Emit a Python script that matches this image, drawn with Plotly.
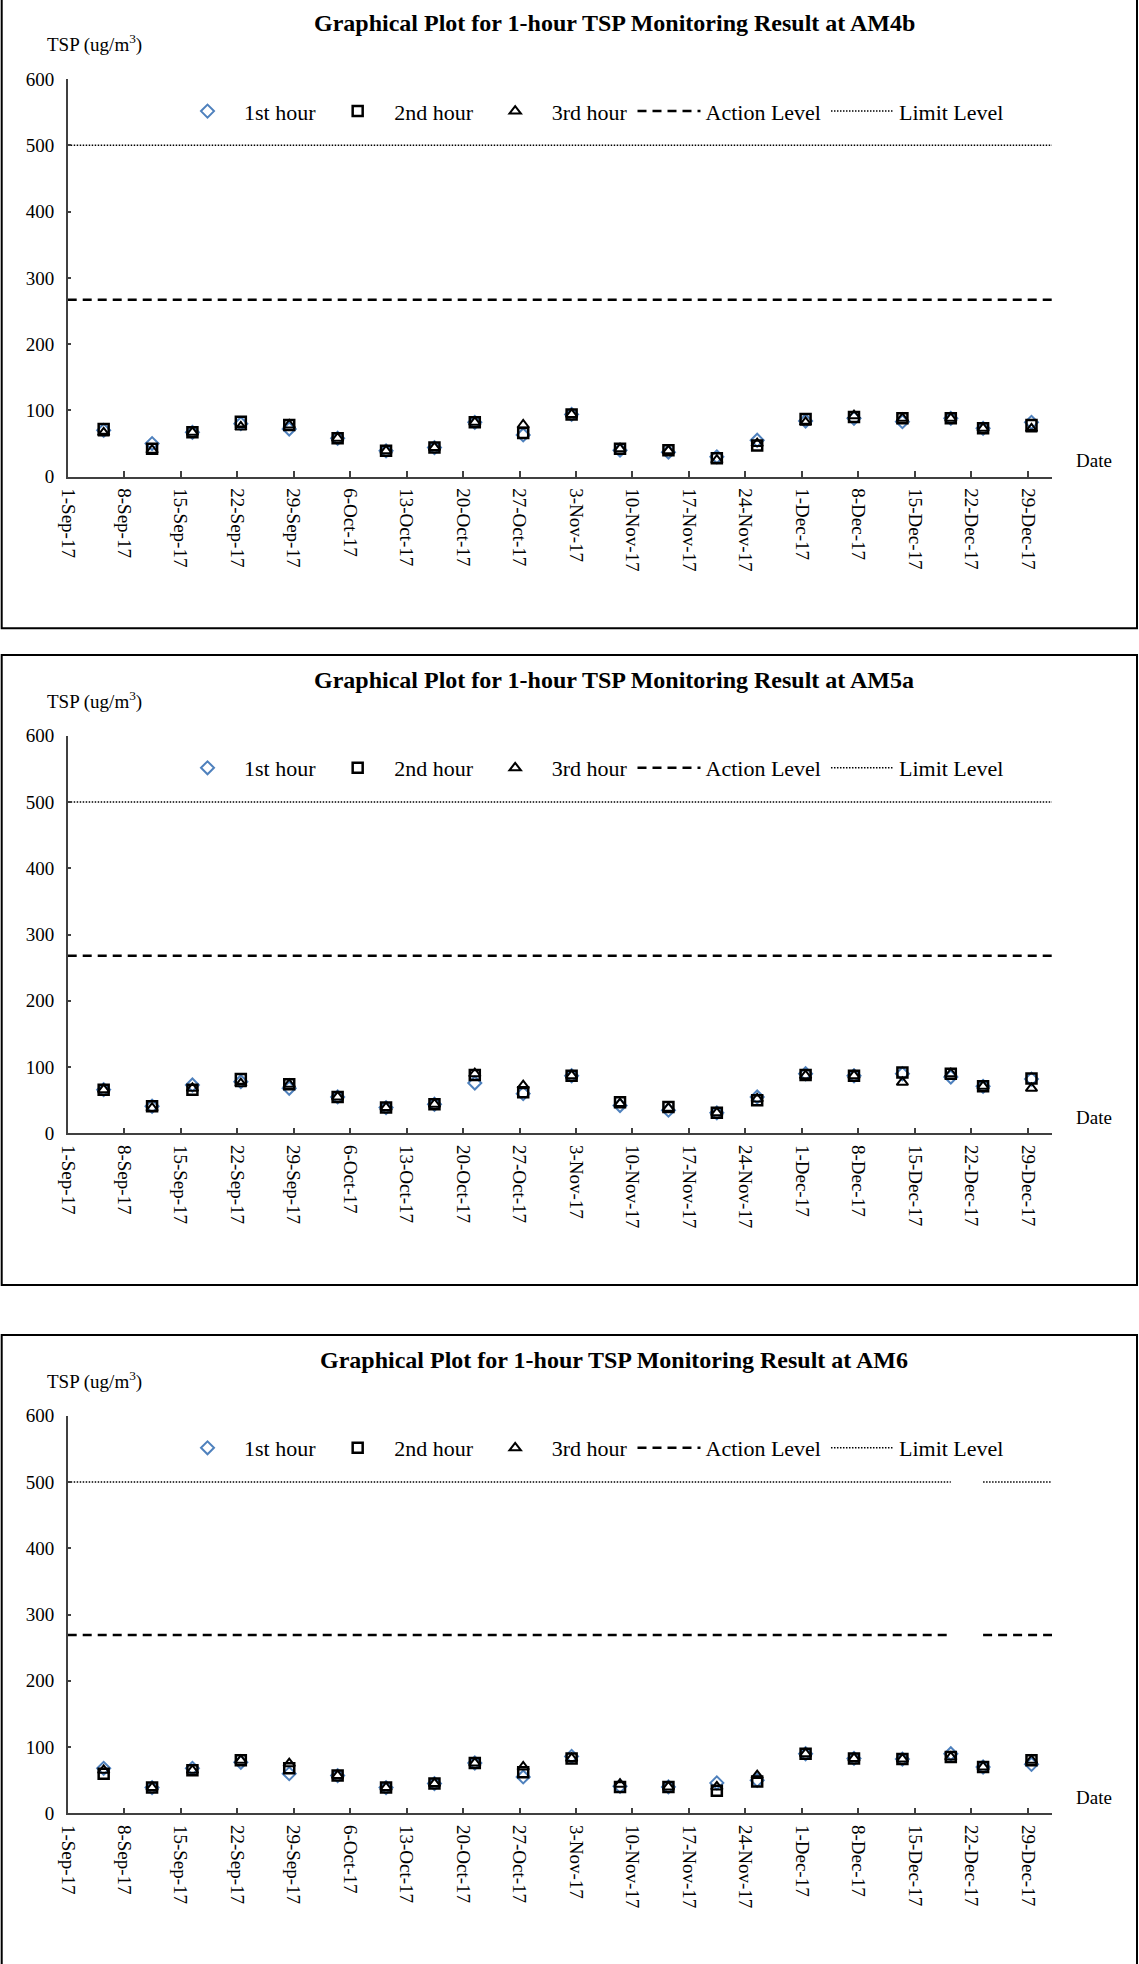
import plotly.graph_objects as go

# ---------------- data ----------------
sample_dates = ["2017-09-05", "2017-09-11", "2017-09-16", "2017-09-22", "2017-09-28",
                "2017-10-04", "2017-10-10", "2017-10-16", "2017-10-21", "2017-10-27",
                "2017-11-02", "2017-11-08", "2017-11-14", "2017-11-20", "2017-11-25",
                "2017-12-01", "2017-12-07", "2017-12-13", "2017-12-19", "2017-12-23",
                "2017-12-29"]
sample_time = "11:00"

stations = ["AM4b", "AM5a", "AM6"]

am4b_1st = [70, 50, 67, 80, 72, 58, 39, 44, 82, 63, 94, 40, 37, 30, 55, 84, 88, 83, 88, 73, 82]
am4b_2nd = [72, 42, 67, 83, 78, 58, 39, 44, 82, 66, 94, 42, 40, 28, 47, 87, 90, 88, 88, 73, 78]
am4b_3rd = [66, 40, 67, 75, 78, 58, 39, 44, 82, 78, 94, 42, 39, 25, 50, 82, 92, 88, 88, 73, 72]

am5a_1st = [66, 41, 73, 78, 68, 55, 39, 44, 76, 60, 87, 42, 35, 31, 55, 90, 87, 90, 85, 71, 82]
am5a_2nd = [66, 41, 66, 82, 74, 55, 39, 44, 88, 62, 87, 47, 40, 31, 50, 88, 87, 92, 90, 71, 83]
am5a_3rd = [66, 38, 68, 75, 74, 55, 39, 44, 90, 72, 87, 45, 38, 31, 52, 87, 87, 77, 90, 71, 68]

am6_1st = [68, 39, 68, 77, 60, 57, 39, 45, 76, 55, 86, 41, 40, 46, 50, 90, 83, 82, 90, 70, 74]
am6_2nd = [60, 39, 65, 80, 68, 57, 39, 45, 76, 62, 83, 40, 40, 34, 48, 90, 83, 82, 85, 70, 80]
am6_3rd = [65, 39, 65, 80, 75, 57, 39, 45, 76, 70, 83, 44, 40, 40, 57, 90, 83, 82, 85, 70, 80]

# level lines (dates, values); None = gap
level_dates_full = ["2017-09-01", "2018-01-01"]
am4b_action = [267, 267]
am4b_limit = [500, 500]
am5a_action = [268, 268]
am5a_limit = [500, 500]
level_dates_am6 = ["2017-09-01", "2017-12-19 11:00", "2017-12-21", "2017-12-23 11:00", "2018-01-01"]
am6_action = [269, 269, None, 269, 269]
am6_limit = [500, 500, None, 500, 500]

y_ticks = [0, 100, 200, 300, 400, 500, 600]

panels = [
    dict(name="AM4b", h1=am4b_1st, h2=am4b_2nd, h3=am4b_3rd,
         ldates=level_dates_full, action=am4b_action, limit=am4b_limit),
    dict(name="AM5a", h1=am5a_1st, h2=am5a_2nd, h3=am5a_3rd,
         ldates=level_dates_full, action=am5a_action, limit=am5a_limit),
    dict(name="AM6", h1=am6_1st, h2=am6_2nd, h3=am6_3rd,
         ldates=level_dates_am6, action=am6_action, limit=am6_limit),
]

# ---------------- layout geometry (pixels) ----------------
W, H = 1139, 1964
FONT = "Liberation Serif, Times New Roman, serif"
panel_tops = [-1.7, 655.0, 1335.0]
panel_bottoms = [628.3, 1285.0, 1965.0]
BOX_L, BOX_R = 1.7, 1137.0
X0_PX, X1_PX = 67.7, 1052.0
Y600_OFF, Y0_OFF = 80.7, 478.4
BLUE = "#4F81BD"


def px_x(p):
    return p / W


def px_y(p):
    return 1 - p / H


xs = [d + " " + sample_time for d in sample_dates]

fig = go.Figure()
layout = dict(
    width=W, height=H, margin=dict(l=0, r=0, t=0, b=0, autoexpand=False),
    paper_bgcolor="white", plot_bgcolor="white",
    font=dict(family=FONT, color="black", size=19),
    shapes=[], annotations=[],
)

for i, p in enumerate(panels):
    k = i + 1
    sfx = "" if k == 1 else str(k)
    xa = "x" + sfx
    ya = "y" + sfx
    leg = "legend" + sfx
    T = panel_tops[i]

    fig.add_trace(go.Scatter(
        x=xs, y=p["h1"], mode="markers", name="1st hour", xaxis=xa, yaxis=ya, legend=leg,
        marker=dict(symbol="diamond-open", size=10, color=BLUE, line=dict(width=2, color=BLUE))))
    fig.add_trace(go.Scatter(
        x=xs, y=p["h2"], mode="markers", name="2nd hour", xaxis=xa, yaxis=ya, legend=leg,
        marker=dict(symbol="square-open", size=10, color="black", line=dict(width=2.5, color="black"))))
    fig.add_trace(go.Scatter(
        x=xs, y=p["h3"], mode="markers", name="3rd hour", xaxis=xa, yaxis=ya, legend=leg,
        marker=dict(symbol="triangle-up-open", size=10, color="black", line=dict(width=2, color="black"))))
    fig.add_trace(go.Scatter(
        x=p["ldates"], y=p["action"], mode="lines", name="Action Level", xaxis=xa, yaxis=ya,
        legend=leg, connectgaps=False,
        line=dict(color="black", width=2.5, dash="9px,6px")))
    fig.add_trace(go.Scatter(
        x=p["ldates"], y=p["limit"], mode="lines", name="Limit Level", xaxis=xa, yaxis=ya,
        legend=leg, connectgaps=False,
        line=dict(color="black", width=1.5, dash="1.5px,1.5px")))

    y_top = T + Y600_OFF
    y_bot = T + Y0_OFF
    layout["xaxis" + sfx] = dict(
        domain=[px_x(X0_PX), px_x(X1_PX)], anchor=ya, type="date", automargin=False,
        range=["2017-09-01", "2018-01-01"],
        tick0="2017-09-01", dtick=7 * 86400000, tickformat="%-d-%b-%y",
        tickangle=90, ticks="inside", ticklen=6, tickwidth=1.5, tickcolor="#404040",
        showline=True, linecolor="#404040", linewidth=1.5, showgrid=False, zeroline=False,
        tickfont=dict(size=19, family=FONT, color="black"), ticklabelstandoff=6,
    )
    layout["yaxis" + sfx] = dict(
        domain=[px_y(y_bot), px_y(y_top)], anchor=xa, range=[0, 600], automargin=False,
        tickvals=y_ticks, ticks="inside", ticklen=4, tickwidth=1.5, tickcolor="#404040",
        showline=True, linecolor="#404040", linewidth=1.5, showgrid=False, zeroline=False,
        tickfont=dict(size=19, family=FONT, color="black"), ticklabelstandoff=8,
    )
    layout[leg] = dict(
        orientation="h", x=px_x(171), xanchor="left", y=px_y(T + 113), yanchor="middle",
        itemwidth=63, font=dict(size=22, family=FONT, color="black"),
        bgcolor="rgba(0,0,0,0)", traceorder="normal",
    )
    # panel border
    layout["shapes"].append(dict(
        type="rect", xref="paper", yref="paper",
        x0=px_x(BOX_L), x1=px_x(BOX_R), y0=px_y(panel_bottoms[i]), y1=px_y(T),
        line=dict(color="black", width=2), fillcolor="rgba(0,0,0,0)", layer="below"))
    # title
    layout["annotations"].append(dict(
        text="<b>Graphical Plot for 1-hour TSP Monitoring Result at " + p["name"] + "</b>",
        xref="paper", yref="paper", x=px_x(614), y=px_y(T + 25),
        xanchor="center", yanchor="middle", showarrow=False,
        font=dict(size=24, family=FONT, color="black")))
    # y label
    layout["annotations"].append(dict(
        text="TSP (ug/m<sup>3</sup>)", xref="paper", yref="paper",
        x=px_x(45), y=px_y(T + 45), xanchor="left", yanchor="middle", showarrow=False,
        font=dict(size=19, family=FONT, color="black")))
    # x label
    layout["annotations"].append(dict(
        text="Date", xref="paper", yref="paper",
        x=px_x(1074), y=px_y(T + 462), xanchor="left", yanchor="middle", showarrow=False,
        font=dict(size=19, family=FONT, color="black")))

fig.update_layout(**layout)
fig.write_html(
    "out.html",
    config={"displayModeBar": False},
    post_script="document.body.style.margin='0';document.body.style.overflow='hidden';",
)
